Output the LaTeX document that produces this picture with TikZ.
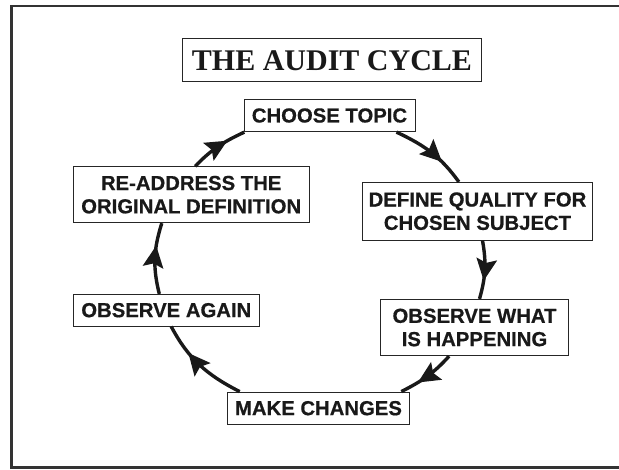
\documentclass[tikz,border=0pt]{standalone}
\usepackage{fontspec}
\setmainfont{Liberation Serif}
\newfontfamily\boxfont{Liberation Sans}[BoldFeatures={FakeBold=0.6}]
\usetikzlibrary{decorations.markings}
\begin{document}
\begin{tikzpicture}[x=1pt,y=1pt,
  stepbox/.style={draw=black!85, line width=0.9pt, fill=white, inner sep=0pt, align=center, text=black!90,
    font=\boxfont\bfseries\fontsize{20.3}{23.3}\selectfont},
  titlebox/.style={draw=black!85, line width=0.9pt, fill=white, inner sep=0pt, text=black!90,
    font=\bfseries\fontsize{30}{36}\selectfont},
  cyc/.style={line width=3.4pt, black!90, postaction={decorate},
    decoration={markings, mark=at position 0.65 with {\fill[black!90] (2pt,0pt) -- (-20pt,10.5pt) -- (-16pt,0pt) -- (-20pt,-10.5pt) -- cycle;}}},
  frame/.style={line width=2.5pt, black!80}
]
\useasboundingbox (0,0) rectangle (619,469);
\draw[frame] (619,463) -- (11.3,463) -- (11.3,1.5) -- (619,1.5);

\node[titlebox, minimum width=299pt, minimum height=43.3pt] (title) at (332,408.7) {THE AUDIT CYCLE};
\node[stepbox, minimum width=171pt, minimum height=32.4pt] (choose) at (329.5,353.5) {CHOOSE TOPIC};
\node[stepbox, minimum width=229.6pt, minimum height=57.7pt] (define) at (477.5,257.8) {DEFINE QUALITY FOR\\CHOSEN SUBJECT};
\node[stepbox, minimum width=187.6pt, minimum height=56.4pt] (what) at (474.5,141.5) {OBSERVE WHAT\\IS HAPPENING};
\node[stepbox, minimum width=182.4pt, minimum height=32.3pt] (make) at (318.5,60.8) {MAKE CHANGES};
\node[stepbox, minimum width=186pt, minimum height=31.7pt] (again) at (166.3,158.8) {OBSERVE AGAIN};
\node[stepbox, minimum width=235.8pt, minimum height=56pt] (readdr) at (191.2,274.3) {RE-ADDRESS THE\\ORIGINAL DEFINITION};

\draw[cyc] ([xshift=67pt]choose.south) to[out=-25,in=126] ([xshift=-18.6pt]define.north);
\draw[cyc] ([xshift=5pt]define.south) to[out=-80,in=74] ([xshift=5pt]what.north);
\draw[cyc] ([xshift=-25.4pt]what.south) to[out=228,in=27] ([xshift=82.8pt]make.north);
\draw[cyc] ([xshift=-78.8pt]make.north) to[out=153,in=-62] ([xshift=4.9pt]again.south);
\draw[cyc] ([xshift=-7pt]again.north) to[out=104,in=-107.5] ([xshift=-29.4pt]readdr.south);
\draw[cyc] ([xshift=4pt]readdr.north) to[out=46,in=-155] ([xshift=-85.2pt]choose.south);
\end{tikzpicture}
\end{document}
